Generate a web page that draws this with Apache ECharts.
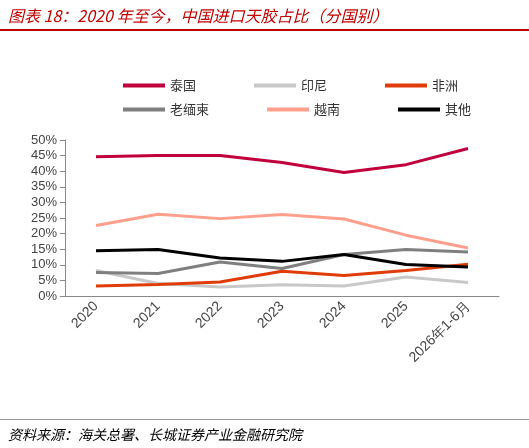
<!DOCTYPE html><html><head><meta charset="utf-8"><script src="https://cdn.jsdelivr.net/npm/echarts@6/dist/echarts.min.js"></script>
<style>body{margin:0;background:#fff}#t{position:absolute;left:8px;top:3px;font:italic 16px "Noto Sans CJK SC";color:#c00000}#l1{position:absolute;left:0;top:29px;width:529px;height:2px;background:#c00000}#l2{position:absolute;left:0;top:419px;width:529px;height:1px;background:#999}#s{position:absolute;left:8px;top:424px;font:italic 14px "Noto Sans CJK SC";color:#000}#c{width:529px;height:448px}</style></head><body><div id="c"></div><div id="t">图表 18：2020 年至今，中国进口天胶占比（分国别）</div><div id="l1"></div><div id="l2"></div><div id="s">资料来源：海关总署、长城证券产业金融研究院</div>
<script>
const categories=['2020','2021','2022','2023','2024','2025','2026年1-6月'];
const thailand=[44.6,45.0,45.0,42.8,39.6,42.1,47.3];
const indonesia=[8.2,4.0,2.9,3.6,3.2,6.1,4.3];
const africa=[3.2,3.7,4.5,7.9,6.6,8.2,10.2];
const laos=[7.5,7.2,10.9,8.8,13.3,14.9,14.1];
const vietnam=[22.6,26.2,24.8,26.1,24.7,19.5,15.4];
const others=[14.5,14.9,12.2,11.1,13.3,10.1,9.3];
const names=['泰国','印尼','非洲','老缅柬','越南','其他'];
const colors=['#c0003c','#c8c8c8','#e03c0a','#7f7f7f','#ff9f8c','#000000'];
const data=[thailand,indonesia,africa,laos,vietnam,others];
const c=echarts.init(document.getElementById('c'));
const lg=(d,top)=>({data:d,left:118,top:top,itemWidth:42,itemHeight:4,itemGap:58,textStyle:{fontSize:13,color:'#333',fontFamily:'Noto Sans CJK SC',width:50},icon:'rect'});
c.setOption({animation:false,
legend:[lg(names.slice(0,3),74),lg(names.slice(3),98)],
grid:{left:65,right:30,top:140,bottom:152},
xAxis:{type:'category',data:categories,axisLine:{lineStyle:{color:'#888'}},axisTick:{lineStyle:{color:'#888'}},axisLabel:{rotate:45,fontSize:14,color:'#444',interval:0}},
yAxis:{type:'value',min:0,max:50,interval:5,axisLine:{show:true,lineStyle:{color:'#888'}},axisTick:{show:true},splitLine:{show:false},axisLabel:{formatter:'{value}%',fontSize:13,color:'#444'}},
series:data.map((d,i)=>({name:names[i],type:'line',data:d,symbol:'none',lineStyle:{width:3,color:colors[i]},itemStyle:{color:colors[i]}}))});
</script></body></html>
